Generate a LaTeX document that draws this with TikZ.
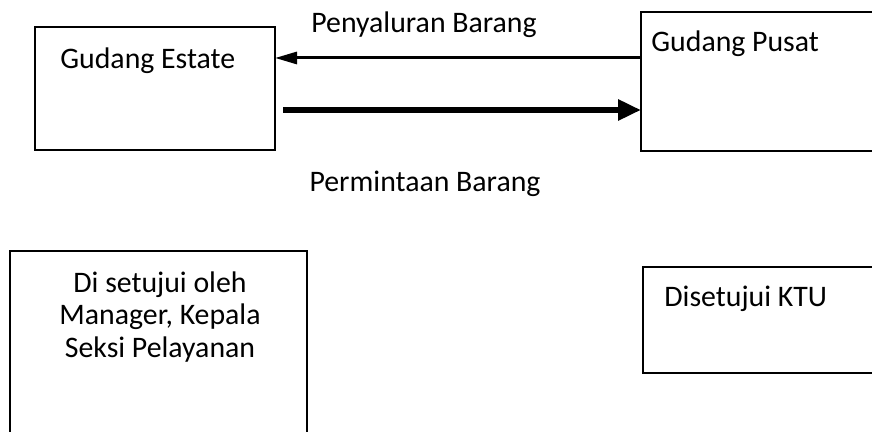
\documentclass[tikz,border=0pt]{standalone}
\usepackage{fontspec}
\setmainfont{Carlito}
\usetikzlibrary{arrows.meta}
\begin{document}
\begin{tikzpicture}[x=0.5pt,y=-0.5pt,
  box/.style={draw=black,line width=1pt,fill=white,inner sep=0pt,outer sep=0pt},
  lbl/.style={inner sep=0pt,font=\fontsize{14.9}{16.3}\selectfont},
  thinarrow/.style={line width=1.5pt,-{Triangle[length=11pt,width=6pt]}},
  thickarrow/.style={line width=3pt,-{Triangle[length=11.5pt,width=10pt]}}]
\useasboundingbox (0,0) rectangle (872,432);
\clip (0,0) rectangle (872,432);
\node[box,minimum width=120pt,minimum height=61.5pt] (estate) at (155,88.5) {};
\node[box,minimum width=119.5pt,minimum height=69.5pt] (pusat) at (760.5,81.5) {};
\node[box,minimum width=148.5pt,minimum height=94.5pt] (manager) at (158.5,345.5) {};
\node[box,minimum width=118.5pt,minimum height=53pt] (ktu) at (761.5,320) {};
\node[lbl,anchor=west] (testate) at (60,61) {Gudang Estate};
\node[lbl,anchor=west] (tpusat) at (651,44) {Gudang Pusat};
\node[lbl,align=center] (tmanager) at (160,317) {Di setujui oleh\\Manager, Kepala\\Seksi Pelayanan};
\node[lbl,anchor=west] (tktu) at (664,299) {Disetujui KTU};
\node[lbl] (penyaluran) at (424,25) {Penyaluran Barang};
\node[lbl] (permintaan) at (425,184) {Permintaan Barang};
\coordinate (a1) at (641,58);
\coordinate (a2) at (283,110);
\draw[thinarrow] (a1) -- (estate.east |- a1);
\draw[thickarrow] (a2) -- (pusat.west |- a2);
\end{tikzpicture}
\end{document}
